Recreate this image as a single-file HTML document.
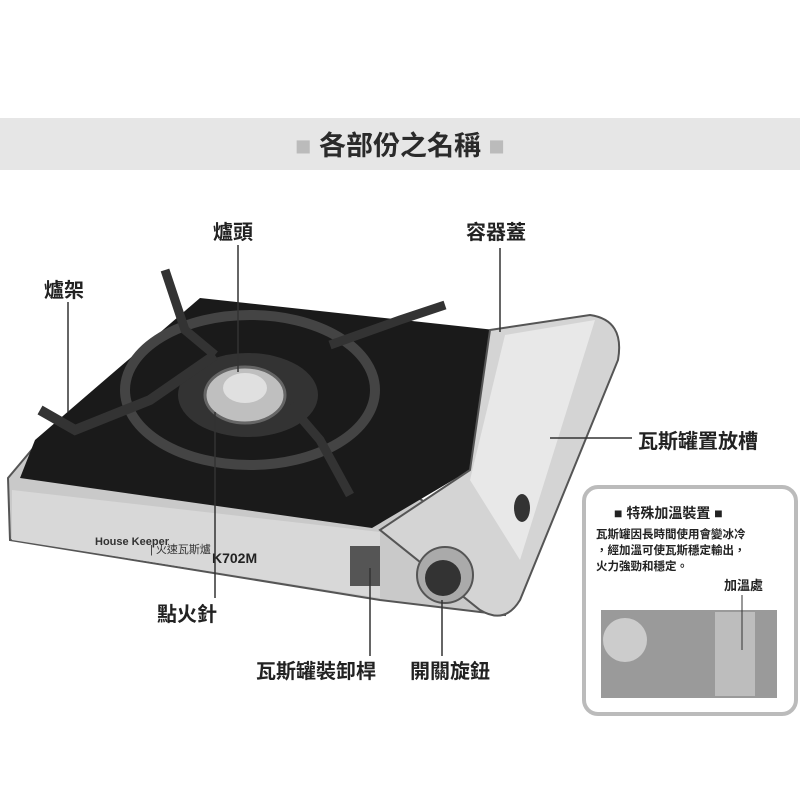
<!DOCTYPE html>
<html><head><meta charset="utf-8"><style>
body{margin:0;width:800px;height:800px;background:#fff;overflow:hidden;position:relative;font-family:"Liberation Sans","Noto Sans CJK TC",sans-serif}
.t{position:absolute;font-weight:bold;color:#222;white-space:nowrap}
</style></head><body>
<div style="position:absolute;left:0;top:118px;width:800px;height:52px;background:#e6e6e6"></div>
<div class="t" style="left:0;width:800px;top:124px;text-align:center;font-size:27px;color:#2a2a2a"><span style="color:#bbb">■</span> 各部份之名稱 <span style="color:#bbb">■</span></div>
<svg width="800" height="800" style="position:absolute;left:0;top:0">
<!-- base silver body -->
<polygon points="8,478 40,440 380,470 505,560 505,615 380,600 10,540" fill="#c9c9c9" stroke="#555" stroke-width="2"/>
<polygon points="12,490 380,532 380,598 12,540" fill="#d8d8d8"/>
<!-- black top -->
<polygon points="35,440 200,298 495,330 470,470 372,528 20,478" fill="#1a1a1a"/>
<ellipse cx="250" cy="390" rx="125" ry="75" fill="none" stroke="#444" stroke-width="10"/>
<ellipse cx="248" cy="395" rx="70" ry="42" fill="#333"/>
<ellipse cx="245" cy="395" rx="40" ry="28" fill="#bfbfbf" stroke="#666" stroke-width="3"/>
<ellipse cx="245" cy="388" rx="22" ry="15" fill="#e0e0e0"/>
<polyline points="40,410 75,430 150,400 215,355" fill="none" stroke="#333" stroke-width="10"/>
<polyline points="165,270 185,330 215,355" fill="none" stroke="#333" stroke-width="9"/>
<polyline points="330,345 400,320 445,305" fill="none" stroke="#333" stroke-width="9"/>
<polyline points="290,405 320,440 350,495" fill="none" stroke="#333" stroke-width="9"/>
<!-- canister cover -->
<path d="M490,330 L590,315 Q625,320 618,360 L520,600 Q505,625 480,610 L380,530 L470,470 Z" fill="#d4d4d4" stroke="#555" stroke-width="2"/>
<path d="M505,335 L595,320 L520,560 L470,480 Z" fill="#e8e8e8"/>
<circle cx="445" cy="575" r="28" fill="#aaa" stroke="#555" stroke-width="2"/>
<circle cx="443" cy="578" r="18" fill="#333"/>
<rect x="350" y="546" width="30" height="40" fill="#555"/>
<ellipse cx="522" cy="508" rx="8" ry="14" fill="#333"/>
<text x="95" y="545" font-size="11" font-weight="bold" fill="#333" font-family="Liberation Sans">House Keeper</text>
<text x="150" y="553" font-size="11" fill="#333" font-family="Liberation Sans,Noto Sans CJK TC">| 火速瓦斯爐</text>
<text x="212" y="563" font-size="14" font-weight="bold" fill="#222" font-family="Liberation Sans">K702M</text>
<!-- lines -->
<g stroke="#333" stroke-width="1.5">
<line x1="238" y1="245" x2="238" y2="372"/>
<line x1="500" y1="248" x2="500" y2="332"/>
<line x1="68" y1="302" x2="68" y2="412"/>
<line x1="550" y1="438" x2="632" y2="438"/>
<line x1="215" y1="412" x2="215" y2="598"/>
<line x1="370" y1="568" x2="370" y2="656"/>
<line x1="442" y1="600" x2="442" y2="656"/>
</g>
<!-- inset -->
<rect x="584" y="487" width="212" height="227" rx="14" fill="#fff" stroke="#bbb" stroke-width="4"/>
<rect x="601" y="610" width="176" height="88" fill="#9a9a9a"/>
<circle cx="625" cy="640" r="22" fill="#ccc"/>
<rect x="715" y="612" width="40" height="84" fill="#bdbdbd"/>
<line x1="742" y1="595" x2="742" y2="650" stroke="#333"/>
</svg>
<div class="t" style="left:213px;top:216px;font-size:20px">爐頭</div>
<div class="t" style="left:466px;top:216px;font-size:20px">容器蓋</div>
<div class="t" style="left:44px;top:274px;font-size:20px">爐架</div>
<div class="t" style="left:638px;top:425px;font-size:20px">瓦斯罐置放槽</div>
<div class="t" style="left:157px;top:598px;font-size:20px">點火針</div>
<div class="t" style="left:256px;top:655px;font-size:20px">瓦斯罐裝卸桿</div>
<div class="t" style="left:410px;top:655px;font-size:20px">開關旋鈕</div>
<div class="t" style="left:614px;top:503px;font-size:14px">■ 特殊加溫裝置 ■</div>
<div class="t" style="left:596px;top:527px;font-size:11.5px;line-height:16px">瓦斯罐因長時間使用會變冰冷<br>，經加溫可使瓦斯穩定輸出，<br>火力強勁和穩定。</div>
<div class="t" style="left:724px;top:575px;font-size:13px">加溫處</div>
</body></html>
